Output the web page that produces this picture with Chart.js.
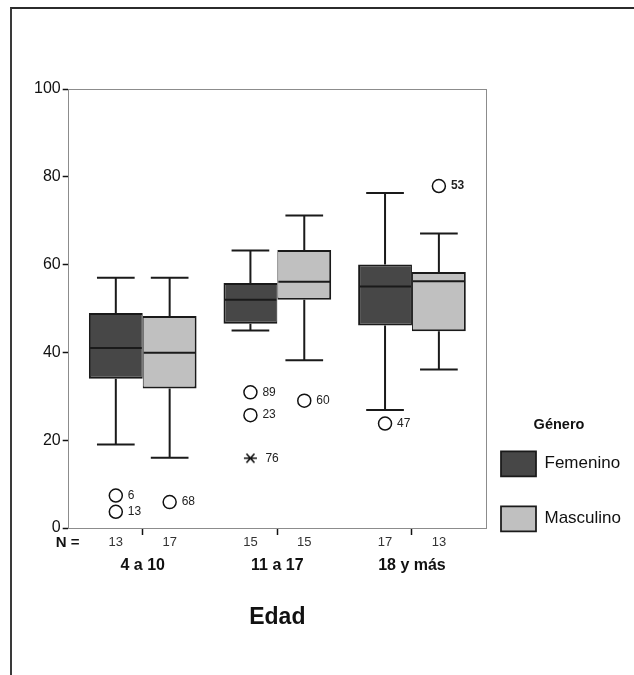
<!DOCTYPE html>
<html><head><meta charset="utf-8">
<script src="https://cdn.jsdelivr.net/npm/chart.js@4"></script>
<style>
html,body{margin:0;padding:0;background:#fff;}
#wrap{position:relative;width:634px;height:675px;overflow:hidden;}
#c{position:absolute;left:0;top:0;}
#frame{position:absolute;left:10px;top:7px;width:700px;height:700px;border-top:2px solid #2b2b2b;border-left:2px solid #3a3a3a;pointer-events:none;}
</style></head><body>
<div id="wrap"><canvas id="c" width="634" height="675"></canvas><div id="frame"></div></div>
<script>
// ---- data ----
const groups = ['4 a 10', '11 a 17', '18 y más'];
const nFem = [13, 15, 17];
const nMasc = [17, 15, 13];
const femMin = [19, 45, 26.9];
const femQ1 = [34, 46.5, 46.1];
const femMedian = [41, 52, 55];
const femQ3 = [49, 55.8, 60];
const femMax = [57, 63.2, 76.3];
const mascMin = [16, 38.2, 36.1];
const mascQ1 = [31.8, 52, 44.8];
const mascMedian = [39.9, 56.1, 56.2];
const mascQ3 = [48.3, 63.3, 58.3];
const mascMax = [57, 71.2, 67.1];
const femOutGroup = [0, 0, 1, 1, 2];
const femOutValue = [7.4, 3.7, 30.9, 25.7, 23.8];
const femOutCase = ['6', '13', '89', '23', '47'];
const femExtGroup = [1];
const femExtValue = [15.9];
const femExtCase = ['76'];
const mascOutGroup = [0, 1, 2];
const mascOutValue = [5.9, 29, 77.9];
const mascOutCase = ['68', '60', '53'];
const boldCases = ['53'];

// ---- layout constants ----
const CAT_PCT = 0.8;
const BOX_SHIFT = CAT_PCT / 4;   // centre of each box relative to its group
const CAP_RATIO = 0.7;
const X_MIN = -0.55, X_MAX = 2.55;
const FONT = '"Liberation Sans", Arial, Helvetica, sans-serif';
Chart.defaults.font.family = FONT;
Chart.defaults.color = '#111';

function asterisk() {
  const c = document.createElement('canvas');
  c.width = 15; c.height = 12;
  const g = c.getContext('2d');
  g.strokeStyle = '#111'; g.lineWidth = 1.6;
  g.beginPath();
  g.moveTo(1, 6); g.lineTo(14, 6);
  g.moveTo(3.5, 1.5); g.lineTo(11.5, 10.5);
  g.moveTo(3.5, 10.5); g.lineTo(11.5, 1.5);
  g.stroke();
  return c;
}

const boxData = (q1, q3) => groups.map((g, i) => ({x: i, y: [q1[i], q3[i]]}));
const ptData = (grp, val, shift) => grp.map((g, i) => ({x: g + shift, y: val[i]}));

const xBase = (extra) => Object.assign({
  type: 'linear', position: 'bottom', min: X_MIN, max: X_MAX, bounds: 'data',
  offset: false, display: true
}, extra);

const boxplotPlugin = {
  id: 'boxplotParts',
  afterLayout(chart) {
    const L = chart.legend;
    L.left = chart.chartArea.right - 15;
    L.width = 176;
    L.right = L.left + L.width;
  },
  afterDatasetsDraw(chart) {
    const ctx = chart.ctx, ys = chart.scales.y;
    chart.data.datasets.forEach((ds, di) => {
      const meta = chart.getDatasetMeta(di);
      if (ds.stats) {
        meta.data.forEach((bar, i) => {
          const p = bar.getProps(['x', 'width'], true);
          const half = p.width / 2, cap = p.width * CAP_RATIO / 2;
          const yMin = ys.getPixelForValue(ds.stats.min[i]);
          const yMax = ys.getPixelForValue(ds.stats.max[i]);
          const yQ1 = ys.getPixelForValue(ds.data[i].y[0]);
          const yQ3 = ys.getPixelForValue(ds.data[i].y[1]);
          const yMed = ys.getPixelForValue(ds.stats.median[i]);
          ctx.save();
          ctx.strokeStyle = '#1a1a1a';
          ctx.lineWidth = 2;
          ctx.beginPath();
          ctx.moveTo(p.x, yQ3); ctx.lineTo(p.x, yMax);
          ctx.moveTo(p.x - cap, yMax); ctx.lineTo(p.x + cap, yMax);
          ctx.moveTo(p.x, yQ1); ctx.lineTo(p.x, yMin);
          ctx.moveTo(p.x - cap, yMin); ctx.lineTo(p.x + cap, yMin);
          ctx.stroke();
          ctx.beginPath();
          ctx.moveTo(p.x - half + 1, yMed); ctx.lineTo(p.x + half - 1, yMed);
          ctx.stroke();
          ctx.restore();
        });
      }
      if (ds.caseLabels) {
        meta.data.forEach((pt, i) => {
          const lab = ds.caseLabels[i];
          ctx.save();
          ctx.fillStyle = '#222';
          ctx.font = (boldCases.includes(lab) ? 'bold ' : '') + '12px ' + FONT;
          ctx.textAlign = 'left';
          ctx.textBaseline = 'middle';
          ctx.fillText(lab, pt.x + ds.labelGap, pt.y);
          ctx.restore();
        });
      }
    });
    // "N =" row caption
    const s = chart.scales.xN;
    ctx.save();
    ctx.fillStyle = '#111';
    ctx.font = 'bold 15px ' + FONT;
    ctx.textAlign = 'left';
    ctx.textBaseline = 'middle';
    ctx.fillText('N =', chart.chartArea.left - 13, s.top + 7.8);
    ctx.restore();
  }
};

new Chart(document.getElementById('c'), {
  type: 'bar',
  data: {
    datasets: [
      {
        label: 'Femenino', data: boxData(femQ1, femQ3),
        stats: {min: femMin, median: femMedian, max: femMax},
        backgroundColor: '#474747', borderColor: '#1a1a1a',
        borderWidth: {top: 2, bottom: 2, left: 2, right: 1}, borderSkipped: false,
        categoryPercentage: CAT_PCT, barPercentage: 1.0, xAxisID: 'x', yAxisID: 'y', order: 2
      },
      {
        label: 'Masculino', data: boxData(mascQ1, mascQ3),
        stats: {min: mascMin, median: mascMedian, max: mascMax},
        backgroundColor: '#c0c0c0', borderColor: '#1a1a1a',
        borderWidth: {top: 2, bottom: 2, left: 1, right: 2}, borderSkipped: false,
        categoryPercentage: CAT_PCT, barPercentage: 1.0, xAxisID: 'x', yAxisID: 'y', order: 2
      },
      {
        type: 'scatter', label: 'out-f', data: ptData(femOutGroup, femOutValue, -BOX_SHIFT),
        caseLabels: femOutCase, labelGap: 12,
        pointStyle: 'circle', pointRadius: 6.5, pointBorderWidth: 1.5,
        pointBorderColor: '#111', pointBackgroundColor: '#fff', xAxisID: 'x', yAxisID: 'y', order: 1
      },
      {
        type: 'scatter', label: 'ext-f', data: ptData(femExtGroup, femExtValue, -BOX_SHIFT),
        caseLabels: femExtCase, labelGap: 15,
        pointStyle: asterisk(), pointRadius: 6, xAxisID: 'x', yAxisID: 'y', order: 1
      },
      {
        type: 'scatter', label: 'out-m', data: ptData(mascOutGroup, mascOutValue, BOX_SHIFT),
        caseLabels: mascOutCase, labelGap: 12,
        pointStyle: 'circle', pointRadius: 6.5, pointBorderWidth: 1.5,
        pointBorderColor: '#111', pointBackgroundColor: '#fff', xAxisID: 'x', yAxisID: 'y', order: 1
      }
    ]
  },
  options: {
    responsive: false,
    animation: false,
    events: [],
    layout: {padding: {top: 89, left: 32, right: 0, bottom: 43.7}},
    scales: {
      x: xBase({
        weight: 0,
        afterBuildTicks: (s) => { s.ticks = groups.map((g, i) => ({value: i})); },
        ticks: {display: false},
        grid: {display: true, drawOnChartArea: false, drawTicks: true, tickLength: 7,
               tickColor: '#111', tickWidth: 1.5, offset: false},
        border: {display: true, color: '#8c8c8c', width: 1}
      }),
      xN: xBase({
        weight: 1,
        afterBuildTicks: (s) => {
          const t = [];
          groups.forEach((g, i) => { t.push({value: i - BOX_SHIFT}); t.push({value: i + BOX_SHIFT}); });
          s.ticks = t;
        },
        ticks: {
          autoSkip: false, maxRotation: 0, padding: 0, color: '#333', font: {size: 13},
          callback: (v, idx) => (idx % 2 === 0 ? nFem[idx / 2] : nMasc[(idx - 1) / 2])
        },
        grid: {display: false, drawTicks: false, offset: false},
        border: {display: false}
      }),
      xG: xBase({
        weight: 2,
        afterBuildTicks: (s) => { s.ticks = groups.map((g, i) => ({value: i})); },
        ticks: {
          autoSkip: false, maxRotation: 0, padding: 5, color: '#111',
          font: {size: 16, weight: 'bold'},
          callback: (v, idx) => groups[idx]
        },
        grid: {display: false, drawTicks: false, offset: false},
        border: {display: false},
        title: {display: true, text: 'Edad', color: '#111',
                font: {size: 23, weight: 'bold', lineHeight: 1.2},
                padding: {top: 23.9, bottom: 0}}
      }),
      xT: xBase({
        position: 'top',
        ticks: {display: false},
        grid: {display: false, drawTicks: false, offset: false},
        border: {display: true, color: '#8c8c8c', width: 1}
      }),
      y: {
        type: 'linear', position: 'left', min: 0, max: 100,
        ticks: {stepSize: 20, padding: 2, color: '#111', font: {size: 16}},
        grid: {display: true, drawOnChartArea: false, drawTicks: true, tickLength: 6,
               tickColor: '#111', tickWidth: 1.5},
        border: {display: true, color: '#8c8c8c', width: 1}
      },
      yR: {
        type: 'linear', position: 'right', min: 0, max: 100, display: true,
        ticks: {display: false},
        grid: {display: false, drawTicks: false},
        border: {display: true, color: '#8c8c8c', width: 1}
      }
    },
    plugins: {
      tooltip: {enabled: false},
      legend: {
        position: 'right', align: 'start', maxWidth: 148,
        labels: {
          boxWidth: 35, boxHeight: 25, padding: 30, color: '#111', font: {size: 17},
          filter: (item) => item.datasetIndex < 2
        },
        title: {
          display: true, text: 'Género', color: '#111',
          font: {size: 14.5, weight: 'bold', lineHeight: 1},
          padding: {top: 328.75, bottom: -11}
        }
      }
    }
  },
  plugins: [boxplotPlugin]
});
</script>
</body></html>
